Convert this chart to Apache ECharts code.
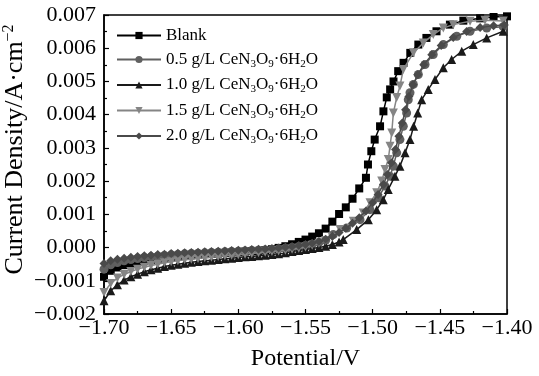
<!DOCTYPE html>
<html>
<head>
<meta charset="utf-8">
<script src="https://cdn.jsdelivr.net/npm/echarts@6/dist/echarts.min.js"></script>
<style>html,body{margin:0;padding:0;background:#fff}#c{width:539px;height:376px}</style>
</head>
<body>
<div id="c"></div>
<script>
const seriesNames = ['Blank', '0.5 g/L CeN3O9·6H2O', '1.0 g/L CeN3O9·6H2O', '1.5 g/L CeN3O9·6H2O', '2.0 g/L CeN3O9·6H2O'];
const xTicks = [-1.70, -1.65, -1.60, -1.55, -1.50, -1.45, -1.40];
const yTicks = [-0.002, -0.001, 0.000, 0.001, 0.002, 0.003, 0.004, 0.005, 0.006, 0.007];

const blank = [
[-1.700,-0.00088],[-1.695,-0.00070],[-1.690,-0.00060],[-1.685,-0.00053],[-1.680,-0.00048],[-1.675,-0.00044],
[-1.670,-0.00040],[-1.665,-0.00037],[-1.660,-0.00034],[-1.655,-0.00031],[-1.650,-0.00029],[-1.645,-0.00027],
[-1.640,-0.00025],[-1.635,-0.00023],[-1.630,-0.00022],[-1.625,-0.00020],[-1.620,-0.00019],[-1.615,-0.00018],
[-1.610,-0.00016],[-1.605,-0.00015],[-1.600,-0.00014],[-1.595,-0.00012],[-1.590,-0.00011],[-1.585,-0.00010],
[-1.580,-0.00008],[-1.575,-0.00005],[-1.570,-0.00001],[-1.565,0.00004],[-1.560,0.00010],[-1.555,0.00017],
[-1.550,0.00024],[-1.545,0.00033],[-1.540,0.00043],[-1.535,0.00057],[-1.530,0.00078],[-1.525,0.00101],
[-1.520,0.00121],[-1.515,0.00147],[-1.510,0.00178],[-1.505,0.00210],[-1.5035,0.00250],[-1.501,0.00290],
[-1.4985,0.00325],[-1.4945,0.00365],[-1.492,0.00410],[-1.4895,0.00452],[-1.487,0.00476],[-1.4845,0.00500],
[-1.481,0.00531],[-1.477,0.00556],[-1.472,0.00586],[-1.466,0.00611],[-1.460,0.00631],[-1.4525,0.00651],
[-1.4425,0.00671],[-1.4325,0.00683],[-1.420,0.00690],[-1.410,0.00694],[-1.400,0.00696]
];

const ce05 = [
[-1.700,-0.00065],[-1.695,-0.00052],[-1.690,-0.00045],[-1.685,-0.00040],[-1.680,-0.00036],[-1.675,-0.00033],
[-1.670,-0.00030],[-1.665,-0.00028],[-1.660,-0.00026],[-1.655,-0.00024],[-1.650,-0.00022],[-1.645,-0.00021],
[-1.640,-0.00019],[-1.635,-0.00018],[-1.630,-0.00017],[-1.625,-0.00016],[-1.620,-0.00015],[-1.615,-0.00014],
[-1.610,-0.00013],[-1.605,-0.00012],[-1.600,-0.00011],[-1.595,-0.00010],[-1.590,-0.00009],[-1.585,-0.00008],
[-1.580,-0.00007],[-1.575,-0.00006],[-1.570,-0.00004],[-1.565,-0.00002],[-1.560,0.00000],[-1.555,0.00003],
[-1.550,0.00006],[-1.545,0.00010],[-1.540,0.00015],[-1.535,0.00022],[-1.5293,0.00039],[-1.5193,0.00059],
[-1.5094,0.00084],[-1.502,0.00114],[-1.4958,0.00150],[-1.4908,0.00185],[-1.4871,0.00215],[-1.4846,0.00245],
[-1.4821,0.00285],[-1.4797,0.00325],[-1.4772,0.00365],[-1.4747,0.00405],[-1.4735,0.00445],[-1.4722,0.00466],
[-1.4697,0.00491],[-1.466,0.00521],[-1.461,0.00551],[-1.4549,0.00581],[-1.4474,0.00611],[-1.4374,0.00636],
[-1.4275,0.00651],[-1.4151,0.00661],[-1.4028,0.00665]
];

const ce10 = [
[-1.700,-0.00160],[-1.695,-0.00130],[-1.690,-0.00112],[-1.685,-0.00098],[-1.680,-0.00088],[-1.675,-0.00080],
[-1.670,-0.00073],[-1.665,-0.00067],[-1.660,-0.00062],[-1.655,-0.00057],[-1.650,-0.00053],[-1.645,-0.00050],
[-1.640,-0.00047],[-1.635,-0.00044],[-1.630,-0.00042],[-1.625,-0.00040],[-1.620,-0.00038],[-1.615,-0.00036],
[-1.610,-0.00034],[-1.605,-0.00032],[-1.600,-0.00030],[-1.595,-0.00028],[-1.590,-0.00027],[-1.585,-0.00025],
[-1.580,-0.00023],[-1.575,-0.00021],[-1.570,-0.00019],[-1.565,-0.00016],[-1.560,-0.00012],[-1.555,-0.00009],
[-1.550,-0.00006],[-1.545,-0.00003],[-1.540,0.00000],[-1.535,0.00004],[-1.530,0.00009],[-1.525,0.00017],
[-1.5219,0.00024],[-1.5119,0.00054],[-1.5032,0.00084],[-1.497,0.00114],[-1.4921,0.00144],[-1.4884,0.00175],
[-1.4834,0.00215],[-1.4797,0.00245],[-1.4759,0.00285],[-1.4722,0.00325],[-1.4695,0.00365],[-1.4665,0.00405],
[-1.4635,0.00445],[-1.4586,0.00476],[-1.4536,0.00506],[-1.4474,0.00541],[-1.4412,0.00566],[-1.4337,0.00591],
[-1.4251,0.00611],[-1.4151,0.00631],[-1.4028,0.00651]
];

const ce15 = [
[-1.700,-0.00135],[-1.695,-0.00108],[-1.690,-0.00092],[-1.685,-0.00081],[-1.680,-0.00072],[-1.675,-0.00065],
[-1.670,-0.00059],[-1.665,-0.00054],[-1.660,-0.00050],[-1.655,-0.00046],[-1.650,-0.00043],[-1.645,-0.00040],
[-1.640,-0.00037],[-1.635,-0.00035],[-1.630,-0.00033],[-1.625,-0.00031],[-1.620,-0.00029],[-1.615,-0.00027],
[-1.610,-0.00025],[-1.605,-0.00023],[-1.600,-0.00022],[-1.595,-0.00020],[-1.590,-0.00018],[-1.585,-0.00016],
[-1.580,-0.00014],[-1.575,-0.00012],[-1.570,-0.00010],[-1.565,-0.00008],[-1.560,-0.00005],[-1.555,-0.00002],
[-1.550,0.00002],[-1.545,0.00007],[-1.540,0.00013],[-1.535,0.00021],[-1.530,0.00031],[-1.5243,0.00054],
[-1.5144,0.00079],[-1.507,0.00104],[-1.502,0.00135],[-1.497,0.00165],[-1.4933,0.00200],[-1.4908,0.00235],
[-1.4884,0.00265],[-1.4871,0.00305],[-1.4858,0.00345],[-1.4846,0.00405],[-1.4821,0.00452],[-1.4797,0.00486],
[-1.4772,0.00536],[-1.4697,0.00586],[-1.4623,0.00616],[-1.4549,0.00641],[-1.4474,0.00661],[-1.4400,0.00671],
[-1.4275,0.00681],[-1.4164,0.00684],[-1.4028,0.00682]
];

const ce20 = [
[-1.700,-0.00048],[-1.695,-0.00040],[-1.690,-0.00035],[-1.685,-0.00032],[-1.680,-0.00029],[-1.675,-0.00027],
[-1.670,-0.00025],[-1.665,-0.00023],[-1.660,-0.00021],[-1.655,-0.00020],[-1.650,-0.00018],[-1.645,-0.00017],
[-1.640,-0.00016],[-1.635,-0.00015],[-1.630,-0.00014],[-1.625,-0.00013],[-1.620,-0.00012],[-1.615,-0.00011],
[-1.610,-0.00010],[-1.605,-0.00009],[-1.600,-0.00008],[-1.595,-0.00007],[-1.590,-0.00006],[-1.585,-0.00005],
[-1.580,-0.00004],[-1.575,-0.00003],[-1.570,-0.00001],[-1.565,0.00001],[-1.560,0.00003],[-1.555,0.00006],
[-1.550,0.00009],[-1.545,0.00013],[-1.540,0.00018],[-1.535,0.00025],[-1.530,0.00034],[-1.525,0.00045],
[-1.520,0.00058],[-1.515,0.00073],[-1.510,0.00090],[-1.505,0.00110],[-1.500,0.00135],[-1.496,0.00160],
[-1.492,0.00190],[-1.489,0.00220],[-1.486,0.00255],[-1.483,0.00295],[-1.4805,0.00335],[-1.478,0.00375],
[-1.4755,0.00415],[-1.473,0.00455],[-1.470,0.00490],[-1.4665,0.00520],[-1.462,0.00550],[-1.456,0.00580],
[-1.449,0.00608],[-1.440,0.00632],[-1.430,0.00650],[-1.420,0.00662],[-1.410,0.00668],[-1.402,0.00670]
];

const FONT = '"Liberation Serif","Times New Roman",serif';
const colors = ['#000000', '#606060', '#1a1a1a', '#858585', '#4a4a4a'];
const symbols = ['rect', 'circle', 'triangle', 'triangle', 'diamond'];
const rotations = [0, 0, 0, 180, 0];
const sizes = [8, 9, 9, 9, 9];
const datasets = [blank, ce05, ce10, ce15, ce20];

function fmtMinus(s) { return s.replace('-', '\u2212'); }

function legendLabel(name) {
  if (name === 'Blank') return '{n|Blank}';
  const m = name.split(' CeN3O9·6H2O')[0];
  return '{n|' + m + ' CeN}{s|3}{n|O}{s|9}{n|·6H}{s|2}{n|O}';
}

const chart = echarts.init(document.getElementById('c'));
chart.setOption({
  animation: false,
  backgroundColor: '#fff',
  grid: { left: 104, right: 32, top: 15, bottom: 62, outerBoundsMode: 'none', containLabel: false,
    show: true, borderColor: '#000', borderWidth: 1.5, backgroundColor: 'transparent' },
  legend: {
    orient: 'vertical', left: 111, top: 22, itemWidth: 44, itemHeight: 9, itemGap: 7,
    data: seriesNames,
    formatter: legendLabel,
    textStyle: {
      color: '#000', fontFamily: FONT,
      rich: {
        n: { fontSize: 17, fontFamily: FONT, color: '#000', lineHeight: 20 },
        s: { fontSize: 11, fontFamily: FONT, color: '#000', lineHeight: 11, verticalAlign: 'bottom' }
      }
    }
  },
  xAxis: {
    type: 'value', min: -1.7, max: -1.4, interval: 0.05,
    name: 'Potential/V', nameLocation: 'middle', nameGap: 33, nameMoveOverlap: false,
    nameTextStyle: { fontFamily: FONT, fontSize: 24, color: '#000' },
    axisLine: { show: true, onZero: false, lineStyle: { color: '#000', width: 1.5 } },
    axisTick: { show: true, inside: true, length: 5, lineStyle: { color: '#000', width: 1.2 } },
    minorTick: { show: true, splitNumber: 2, length: 3, lineStyle: { color: '#000', width: 1.2 } },
    splitLine: { show: false },
    axisLabel: { color: '#000', fontFamily: FONT, fontSize: 22, margin: 3, formatter: v => fmtMinus(v.toFixed(2)) }
  },
  yAxis: {
    type: 'value', min: -0.002, max: 0.007, interval: 0.001,
    name: '{n|Current Density/A·cm}{p|\u22122}', nameLocation: 'middle', nameGap: 74, nameRotate: 90,
    nameMoveOverlap: false,
    nameTextStyle: {
      fontFamily: FONT, fontSize: 26, color: '#000', padding: [0, 0, 0, 30],
      rich: {
        n: { fontSize: 26, fontFamily: FONT, color: '#000', lineHeight: 29 },
        p: { fontSize: 16, fontFamily: FONT, color: '#000', lineHeight: 16, verticalAlign: 'top' }
      }
    },
    axisLine: { show: true, onZero: false, lineStyle: { color: '#000', width: 1.5 } },
    axisTick: { show: true, inside: true, length: 5, lineStyle: { color: '#000', width: 1.2 } },
    minorTick: { show: true, splitNumber: 2, length: 3, lineStyle: { color: '#000', width: 1.2 } },
    splitLine: { show: false },
    axisLabel: { color: '#000', fontFamily: FONT, fontSize: 22, margin: 8,
      formatter: v => Math.abs(v) < 1e-12 ? '0.000' : fmtMinus(v.toFixed(3)) }
  },
  series: seriesNames.map((name, i) => ({
    name: name, type: 'line', data: datasets[i],
    symbol: symbols[i], symbolRotate: rotations[i],
    symbolSize: sizes[i],
    showSymbol: true,
    lineStyle: { color: colors[i], width: 1.5 },
    itemStyle: { color: colors[i], borderWidth: 0 },
    z: 2 + i
  }))
});
</script>
</body>
</html>
